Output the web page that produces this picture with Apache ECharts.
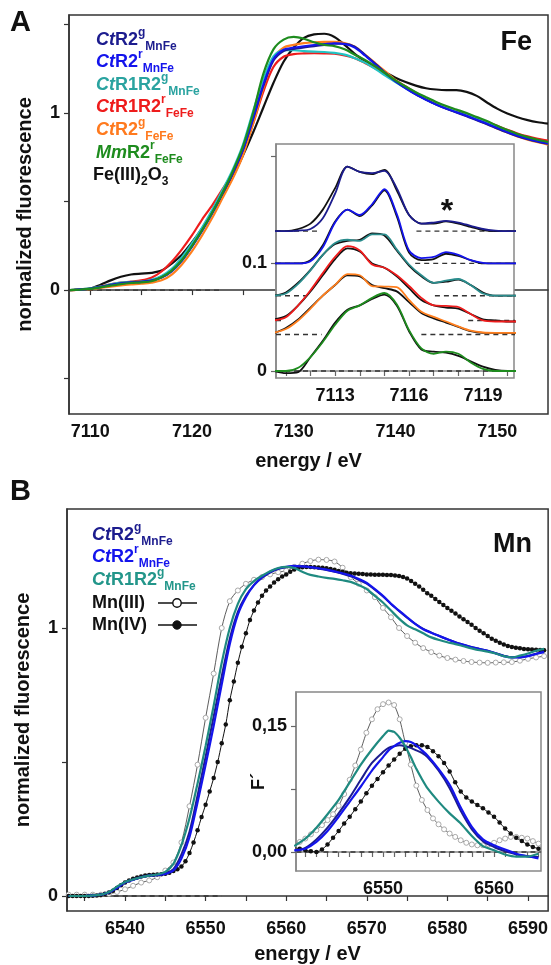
<!DOCTYPE html>
<html><head><meta charset="utf-8">
<script src="https://cdn.jsdelivr.net/npm/echarts@6/dist/echarts.min.js"></script>
<style>html,body{margin:0;padding:0;background:#fff}#c{width:551px;height:965px}</style>
</head><body><div id="c"></div>
<script>
// ---------------- Panel A (Fe K-edge) ----------------
const feE = [7108,7109,7110,7111,7112,7113,7114,7115,7116,7117,7118,7119,7120,7121,7122,7123,7124,7125,7126,7127,7128,7129,7130,7131,7132,7133,7134,7135,7136,7137,7138,7139,7140,7141,7142,7143,7144,7145,7146,7147,7148,7149,7150,7151,7152,7153,7154,7155];
const feNavy = [0,0.003,0.008,0.018,0.03,0.039,0.044,0.047,0.054,0.072,0.108,0.168,0.248,0.338,0.438,0.548,0.662,0.792,0.965,1.15,1.295,1.35,1.362,1.37,1.378,1.385,1.392,1.392,1.375,1.33,1.28,1.228,1.18,1.142,1.106,1.076,1.048,1.024,1.003,0.982,0.959,0.937,0.913,0.89,0.869,0.852,0.838,0.826];
const feBlue = [0,0.003,0.008,0.017,0.028,0.037,0.042,0.046,0.053,0.07,0.105,0.165,0.245,0.335,0.435,0.545,0.66,0.79,0.97,1.16,1.305,1.358,1.37,1.378,1.385,1.39,1.395,1.39,1.37,1.325,1.275,1.225,1.178,1.14,1.105,1.075,1.048,1.025,1.005,0.985,0.962,0.94,0.916,0.893,0.872,0.855,0.84,0.828];
const feTeal = [0,0.004,0.01,0.02,0.032,0.042,0.046,0.048,0.058,0.08,0.12,0.185,0.265,0.355,0.455,0.565,0.68,0.82,1.01,1.19,1.32,1.355,1.355,1.35,1.347,1.345,1.34,1.33,1.31,1.285,1.25,1.212,1.175,1.14,1.107,1.077,1.05,1.028,1.007,0.988,0.966,0.944,0.92,0.897,0.876,0.858,0.843,0.83];
const feRed = [0,0.003,0.008,0.02,0.033,0.042,0.048,0.055,0.07,0.105,0.16,0.23,0.31,0.4,0.48,0.57,0.66,0.78,0.94,1.12,1.26,1.318,1.333,1.337,1.338,1.337,1.335,1.326,1.31,1.283,1.253,1.22,1.185,1.15,1.115,1.085,1.058,1.035,1.013,0.993,0.972,0.95,0.928,0.905,0.885,0.868,0.855,0.845];
const feOrange = [0,0.002,0.005,0.012,0.02,0.027,0.032,0.036,0.042,0.055,0.088,0.145,0.22,0.31,0.41,0.52,0.63,0.76,0.94,1.14,1.31,1.37,1.385,1.395,1.4,1.402,1.402,1.395,1.375,1.33,1.283,1.235,1.188,1.148,1.112,1.08,1.052,1.028,1.006,0.985,0.962,0.938,0.913,0.89,0.868,0.85,0.835,0.822];
const feGreen = [0,0.003,0.007,0.015,0.025,0.034,0.04,0.044,0.05,0.072,0.11,0.17,0.25,0.34,0.44,0.55,0.67,0.81,1.0,1.22,1.36,1.415,1.43,1.42,1.4,1.385,1.378,1.36,1.33,1.3,1.265,1.225,1.185,1.15,1.118,1.09,1.063,1.04,1.02,1.0,0.977,0.955,0.928,0.904,0.882,0.864,0.849,0.836];
const feBlack = [0,0.004,0.01,0.03,0.055,0.075,0.088,0.093,0.097,0.11,0.15,0.2,0.27,0.35,0.44,0.54,0.64,0.76,0.89,1.03,1.17,1.29,1.37,1.425,1.445,1.448,1.43,1.385,1.335,1.295,1.26,1.23,1.2,1.175,1.155,1.14,1.133,1.13,1.13,1.12,1.097,1.06,1.025,0.997,0.976,0.96,0.948,0.94];
const feZeroLine = [[7108,0],[7123,0]];

// inset A (pre-edge, offset spectra) with black fits
const preE = [7110.5,7111,7111.5,7112,7112.5,7113,7113.5,7114,7114.5,7115,7115.5,7116,7116.5,7117,7117.5,7118,7118.5,7119,7119.5,7120,7120.5];
const preNavy   = [0.13,0.13,0.1305,0.132,0.142,0.165,0.19,0.185,0.184,0.186,0.17,0.145,0.137,0.138,0.1395,0.138,0.135,0.132,0.1305,0.13,0.13];
const preNavyFit= [0.13,0.13,0.132,0.137,0.15,0.17,0.19,0.185,0.183,0.187,0.168,0.145,0.137,0.137,0.139,0.137,0.134,0.131,0.13,0.13,0.13];
const preBlue   = [0.1,0.1,0.1,0.102,0.115,0.138,0.15,0.145,0.155,0.169,0.146,0.112,0.105,0.106,0.1105,0.108,0.103,0.1005,0.1,0.1,0.1];
const preBlueFit= [0.1,0.1,0.1,0.103,0.117,0.139,0.15,0.144,0.154,0.168,0.144,0.11,0.103,0.104,0.109,0.107,0.103,0.1,0.1,0.1,0.1];
const preTeal   = [0.07,0.072,0.081,0.0935,0.108,0.119,0.122,0.121,0.127,0.127,0.113,0.099,0.089,0.082,0.084,0.0855,0.08,0.072,0.07,0.07,0.07];
const preTealFit= [0.07,0.073,0.082,0.094,0.108,0.118,0.121,0.122,0.128,0.126,0.112,0.098,0.088,0.082,0.083,0.085,0.08,0.073,0.07,0.07,0.07];
const preRed    = [0.047,0.05,0.061,0.075,0.091,0.106,0.116,0.112,0.099,0.096,0.089,0.079,0.068,0.061,0.0605,0.0595,0.053,0.047,0.046,0.046,0.046];
const preRedFit = [0.048,0.051,0.061,0.074,0.089,0.104,0.114,0.111,0.1,0.096,0.088,0.077,0.066,0.061,0.059,0.058,0.053,0.048,0.047,0.046,0.046];
const preOrange = [0.0355,0.039,0.047,0.058,0.07,0.08,0.09,0.089,0.079,0.0785,0.078,0.066,0.055,0.0503,0.046,0.0415,0.0375,0.0358,0.0355,0.0355,0.0355];
const preOrangeFit=[0.035,0.04,0.048,0.059,0.07,0.08,0.089,0.088,0.08,0.077,0.074,0.064,0.054,0.049,0.045,0.041,0.037,0.0355,0.0355,0.0355,0.0355];
const preGreen  = [0,0,0.003,0.013,0.027,0.043,0.056,0.061,0.068,0.0725,0.062,0.038,0.021,0.016,0.018,0.016,0.008,0.002,0,0,0];
const preGreenFit=[0,-0.002,-0.001,0.013,0.028,0.045,0.057,0.061,0.067,0.071,0.061,0.037,0.02,0.018,0.017,0.014,0.009,0.004,0.001,0,0];
const preBaseLevel = [0.13,0.1,0.07,0.047,0.034,0];
const preBaseLeftEnd = [7112.3,7111.8,7111.85,7110.95,7112.45,7120.3];
const preBaseRightStart = [7116.3,7116.25,7117.05,7118.4,7116.5,null];

// ---------------- Panel B (Mn K-edge) ----------------
const mnE = [6533,6534,6535,6536,6537,6538,6539,6540,6541,6542,6543,6544,6545,6546,6547,6548,6549,6550,6551,6552,6553,6554,6555,6556,6557,6558,6559,6560,6561,6562,6563,6564,6565,6566,6567,6568,6569,6570,6571,6572,6573,6574,6575,6576,6577,6578,6579,6580,6581,6582,6583,6584,6585,6586,6587,6588,6589,6590,6591,6592];
const mnNavy = [0,0,0,0.002,0.005,0.014,0.032,0.052,0.062,0.071,0.077,0.079,0.084,0.1,0.155,0.24,0.375,0.52,0.67,0.82,0.96,1.06,1.12,1.16,1.188,1.207,1.22,1.227,1.23,1.229,1.226,1.222,1.216,1.21,1.202,1.193,1.18,1.165,1.143,1.118,1.09,1.063,1.038,1.016,0.997,0.983,0.97,0.958,0.947,0.938,0.929,0.922,0.915,0.906,0.897,0.891,0.891,0.896,0.904,0.912];
const mnBlue = [0,0,0,0.002,0.005,0.013,0.03,0.05,0.06,0.07,0.076,0.078,0.082,0.095,0.14,0.22,0.35,0.49,0.635,0.79,0.94,1.05,1.115,1.16,1.19,1.21,1.222,1.228,1.232,1.23,1.227,1.223,1.218,1.211,1.204,1.196,1.183,1.168,1.145,1.12,1.09,1.065,1.04,1.015,0.995,0.982,0.97,0.958,0.946,0.937,0.928,0.921,0.915,0.905,0.895,0.89,0.89,0.895,0.903,0.91];
const mnTeal = [0,0,0,0.002,0.005,0.015,0.035,0.052,0.062,0.07,0.076,0.08,0.09,0.12,0.19,0.29,0.42,0.56,0.71,0.87,1.0,1.09,1.145,1.175,1.195,1.212,1.224,1.228,1.224,1.21,1.198,1.192,1.187,1.183,1.178,1.172,1.16,1.145,1.12,1.095,1.065,1.035,1.01,0.995,0.98,0.965,0.955,0.947,0.94,0.932,0.924,0.917,0.912,0.905,0.895,0.89,0.897,0.905,0.915,0.922];
const mnIII = [0.005,0.005,0.005,0.005,0.005,0.008,0.015,0.025,0.038,0.05,0.058,0.07,0.095,0.125,0.2,0.335,0.49,0.665,0.83,1.0,1.1,1.14,1.165,1.18,1.19,1.2,1.208,1.214,1.228,1.24,1.25,1.255,1.254,1.248,1.225,1.19,1.165,1.14,1.115,1.075,1.04,1.0,0.97,0.945,0.925,0.91,0.897,0.888,0.882,0.877,0.873,0.871,0.87,0.871,0.872,0.873,0.878,0.885,0.89,0.895];
const mnIVE = []; for (let e = 6533; e <= 6592; e += 0.5) mnIVE.push(e);
const mnIV = [0,0,0,0,0,0,0.001,0.002,0.004,0.008,
  0.013,0.02,0.03,0.04,0.05,0.058,0.064,0.069,0.073,0.076,
  0.078,0.079,0.08,0.081,0.083,0.087,0.093,0.1,0.11,0.13,
  0.16,0.2,0.245,0.295,0.34,0.39,0.44,0.5,0.57,0.64,
  0.73,0.8,0.87,0.93,0.98,1.03,1.065,1.095,1.12,1.14,
  1.155,1.17,1.182,1.192,1.2,1.21,1.218,1.224,1.227,1.228,
  1.228,1.227,1.226,1.225,1.223,1.22,1.217,1.213,1.21,1.206,
  1.204,1.203,1.202,1.201,1.2,1.2,1.199,1.199,1.199,1.198,
  1.198,1.196,1.194,1.19,1.185,1.175,1.165,1.155,1.143,1.13,
  1.12,1.108,1.097,1.086,1.075,1.064,1.054,1.043,1.033,1.022,
  1.012,1.0,0.99,0.98,0.97,0.96,0.952,0.945,0.938,0.933,
  0.929,0.926,0.924,0.922,0.921,0.92,0.919,0.918,0.917];
const mnZeroLine = [[6533,0],[6552,0]];

// inset B: first derivative F'
const dE = [6542,6543,6544,6545,6546,6547,6548,6549,6550,6550.5,6551,6551.5,6552,6552.5,6553,6553.5,6554,6555,6556,6557,6558,6559,6560,6561,6562,6563,6564];
const dTeal = [0.007,0.016,0.029,0.045,0.062,0.083,0.104,0.122,0.138,0.1445,0.143,0.136,0.126,0.113,0.099,0.087,0.076,0.06,0.046,0.034,0.019,0.007,0.002,-0.003,-0.0056,-0.0056,-0.002];
const dBlue = [0.002,0.004,0.012,0.025,0.042,0.06,0.078,0.097,0.113,0.121,0.126,0.13,0.132,0.131,0.127,0.121,0.115,0.099,0.08,0.053,0.03,0.015,0.008,0.003,-0.002,-0.005,-0.0075];
const dNavy = [0.002,0.005,0.015,0.029,0.046,0.065,0.086,0.106,0.119,0.124,0.126,0.127,0.126,0.124,0.121,0.118,0.113,0.097,0.076,0.049,0.027,0.013,0.006,0.001,-0.003,-0.005,-0.006];
const dRefE = []; for (let e = 6542; e <= 6564; e += 0.5) dRefE.push(e);
const dIII = [0.007,0.012,0.016,0.021,0.026,0.032,0.038,0.045,0.055,0.069,0.086,0.103,0.122,0.142,0.158,0.17,0.176,0.178,0.175,0.158,0.13,0.104,0.079,0.062,0.05,0.04,0.033,0.027,0.022,0.018,0.014,0.011,0.009,0.008,0.008,0.009,0.011,0.014,0.016,0.018,0.018,0.017,0.016,0.013,0.01];
const dIV = [0.005,0.004,0.002,0.001,0,0.003,0.009,0.017,0.025,0.034,0.042,0.051,0.06,0.07,0.079,0.087,0.095,0.103,0.11,0.117,0.123,0.126,0.127,0.127,0.125,0.12,0.114,0.106,0.096,0.083,0.072,0.065,0.06,0.056,0.052,0.047,0.042,0.035,0.028,0.022,0.017,0.013,0.009,0.006,0.004];

// tick values
const aTicksX = [7110,7115,7120,7125,7130,7135,7140,7145,7150], aLabX = [7110,7120,7130,7140,7150];
const aTicksY = [-0.5,0,0.5,1,1.5], aLabY = [0,1];
const aiTicksX = [7111,7112,7113,7114,7115,7116,7117,7118,7119,7120], aiLabX = [7113,7116,7119];
const aiTicksY = [0,0.1,0.2], aiLabY = [0,0.1];
const bTicksX = [6535,6540,6545,6550,6555,6560,6565,6570,6575,6580,6585,6590], bLabX = [6540,6550,6560,6570,6580,6590];
const bTicksY = [0,0.5,1], bLabY = [0,1];
const biTicksX = [6543,6544,6545,6546,6547,6548,6549,6550,6551,6552,6553,6554,6555,6556,6557,6558,6559,6560,6561,6562,6563,6564], biLabX = [6550,6560];
const biTicksY = [0,0.075,0.15], biLabY = [0,0.15];

// legend texts
const legendA = ['{i|Ct}{n|R2}{sp|g}{sb|MnFe}','{i|Ct}{n|R2}{sp|r}{sb|MnFe}','{i|Ct}{n|R1R2}{sp|g}{sb|MnFe}','{i|Ct}{n|R1R2}{sp|r}{sb|FeFe}','{i|Ct}{n|R2}{sp|g}{sb|FeFe}','{i|Mm}{n|R2}{sp|r}{sb|FeFe}','{n|Fe(III)}{sb|2}{n|O}{sb|3}'];
const legendAColor = ['#1c1c8e','#1414ec','#2aa3a0','#ee1c1c','#ff7a1e','#1e8c1e','#111111'];
const legendB = ['{i|Ct}{n|R2}{sp|g}{sb|MnFe}','{i|Ct}{n|R2}{sp|r}{sb|MnFe}','{i|Ct}{n|R1R2}{sp|g}{sb|MnFe}','{n|Mn(III)}','{n|Mn(IV)}'];
const legendBColor = ['#1c1c8e','#1414ec','#23968a','#111111','#111111'];

// ---------------- build ----------------
const F = '"Liberation Sans", Arial, Helvetica, sans-serif';
const C = {navy:'#1c1c8e', blue:'#1414ec', cyan:'#22c4c4', tealA:'#2a8c8c', red:'#ee1c1c', orange:'#ff7f1e', green:'#1e8c1e', black:'#111', tealB:'#1f8a80'};
const zip = (xs, ys) => xs.map((x, i) => [x, ys[i]]);
function ln(xi, data, color, width, z, extra) {
  return Object.assign({type:'line', xAxisIndex:xi, yAxisIndex:xi, data, symbol:'none', showSymbol:false,
    smooth:0.3, lineStyle:{color, width}, itemStyle:{color}, z, silent:true, animation:false}, extra || {});
}
function dash(xi, data, z) {
  return {type:'line', xAxisIndex:xi, yAxisIndex:xi, data, symbol:'none', lineStyle:{color:'#333', width:1.4, type:[5,4]}, z, silent:true, animation:false};
}
const plain = (v) => String(v);
const lab = (extra) => Object.assign({fontSize:18, fontWeight:'bold', color:'#111', fontFamily:F, formatter:plain}, extra);
function xAx(gi, min, max, ticks, labs, z, extra) {
  return Object.assign({gridIndex:gi, type:'value', min, max, z,
    axisLine:{show:true, lineStyle:{color: gi%2 ? '#888' : '#333', width:1.5}},
    axisTick:{show:true, length:5, customValues:ticks, lineStyle:{color: gi%2 ? '#666':'#333', width:1.2}},
    axisLabel:lab({customValues:labs, margin:9}), splitLine:{show:false}}, extra || {});
}
function yAx(gi, min, max, ticks, labs, z, extra) {
  return Object.assign({gridIndex:gi, type:'value', min, max, z,
    axisLine:{show:true, lineStyle:{color: gi%2 ? '#888' : '#333', width:1.5}},
    axisTick:{show:true, length:5, customValues:ticks, lineStyle:{color: gi%2 ? '#666':'#333', width:1.2}},
    axisLabel:lab({customValues:labs, margin:9}), splitLine:{show:false}}, extra || {});
}

const series = [];
// main A
series.push(dash(0, feZeroLine, 2));
series.push(ln(0, zip(feE, feBlack), C.black, 2.2, 3));
series.push(ln(0, zip(feE, feRed), C.red, 2.2, 3));
series.push(ln(0, zip(feE, feOrange), C.orange, 2.2, 3));
series.push(ln(0, zip(feE, feTeal), C.cyan, 2.2, 3));
series.push(ln(0, zip(feE, feNavy), C.navy, 2, 3));
series.push(ln(0, zip(feE, feBlue), C.blue, 2, 3));
series.push(ln(0, zip(feE, feGreen), C.green, 2.2, 3));
// inset A baselines
preBaseLevel.forEach((lv, i) => {
  series.push(dash(1, [[7110.6, lv],[preBaseLeftEnd[i], lv]], 12));
  if (preBaseRightStart[i] !== null) series.push(dash(1, [[preBaseRightStart[i], lv],[7120.3, lv]], 12));
});
[[preNavy, preNavyFit, C.navy],[preBlue, preBlueFit, C.blue],[preTeal, preTealFit, C.tealA],
 [preRed, preRedFit, C.red],[preOrange, preOrangeFit, C.orange],[preGreen, preGreenFit, C.green]].forEach(([d, f, c]) => {
  series.push(ln(1, zip(preE, f), '#111', 1.8, 13));
  series.push(ln(1, zip(preE, d), c, 1.8, 14));
});
// main B
series.push(dash(2, mnZeroLine, 2));
series.push(ln(2, zip(mnE, mnIII), '#333', 0.8, 3, {symbol:'circle', showSymbol:true, showAllSymbol:true, symbolSize:5,
  itemStyle:{color:'#fff', borderColor:'#aaa', borderWidth:1}}));
series.push(ln(2, zip(mnIVE, mnIV), '#111', 1, 3, {symbol:'circle', showSymbol:true, showAllSymbol:true, symbolSize:4.5,
  itemStyle:{color:'#111'}}));
series.push(ln(2, zip(mnE, mnNavy), C.navy, 2, 4));
series.push(ln(2, zip(mnE, mnBlue), C.blue, 2.2, 4));
series.push(ln(2, zip(mnE, mnTeal), C.tealB, 2.2, 4));
// inset B
series.push(dash(3, [[6542.2,0],[6564.2,0]], 12));
series.push(ln(3, zip(dRefE, dIII), '#333', 0.8, 13, {smooth:0.2, symbol:'circle', showSymbol:true, showAllSymbol:true, symbolSize:5,
  itemStyle:{color:'#fff', borderColor:'#aaa', borderWidth:1}}));
series.push(ln(3, zip(dRefE, dIV), '#111', 1, 13, {smooth:0.2, symbol:'circle', showSymbol:true, showAllSymbol:true, symbolSize:4.5,
  itemStyle:{color:'#111'}}));
series.push(ln(3, zip(dE, dNavy), C.navy, 2, 14));
series.push(ln(3, zip(dE, dBlue), C.blue, 2.2, 14));
series.push(ln(3, zip(dE, dTeal), C.tealB, 2.2, 14, {smooth:0.15}));

const rich = (color) => ({
  i:{fontStyle:'italic', fontWeight:'bold', fontSize:18, fontFamily:F, fill:color, lineHeight:26},
  n:{fontWeight:'bold', fontSize:18, fontFamily:F, fill:color, lineHeight:26},
  sp:{fontWeight:'bold', fontSize:12, fontFamily:F, fill:color, lineHeight:12, verticalAlign:'top'},
  sb:{fontWeight:'bold', fontSize:12, fontFamily:F, fill:color, lineHeight:12, verticalAlign:'bottom'}
});
const graphic = [];
const legAY = [40,62,85,107,130,153,175];
legendA.forEach((t, i) => graphic.push({type:'text', x: i === 6 ? 93 : 96, y: legAY[i], z:50,
  style:{text:t, rich:rich(legendAColor[i]), align:'left', verticalAlign:'middle'}}));
const legBY = [535,557,580,603,625];
legendB.forEach((t, i) => graphic.push({type:'text', x:92, y:legBY[i], z:50,
  style:{text:t, rich:rich(legendBColor[i]), align:'left', verticalAlign:'middle'}}));
graphic.push({type:'line', z:50, shape:{x1:158, y1:603, x2:197, y2:603}, style:{stroke:'#111', lineWidth:1.5}});
graphic.push({type:'circle', z:51, shape:{cx:177, cy:603, r:4.2}, style:{fill:'#fff', stroke:'#111', lineWidth:1.4}});
graphic.push({type:'line', z:50, shape:{x1:158, y1:625, x2:197, y2:625}, style:{stroke:'#111', lineWidth:1.5}});
graphic.push({type:'circle', z:51, shape:{cx:177, cy:625, r:4.2}, style:{fill:'#111', stroke:'#111', lineWidth:1}});
const big = (text, x, y, size, align) => ({type:'text', x, y, z:50, style:{text, fill:'#111', font:'bold ' + size + 'px ' + F, align, verticalAlign:'middle'}});
graphic.push(big('A', 10, 23, 29, 'left'));
graphic.push(big('B', 10, 492, 29, 'left'));
graphic.push(big('Fe', 532, 43, 27, 'right'));
graphic.push(big('Mn', 532, 545, 27, 'right'));
graphic.push(big('*', 447, 212, 32, 'center'));

const nameStyle = {fontSize:20, fontWeight:'bold', color:'#111', fontFamily:F};
const option = {
  animation:false,
  backgroundColor:'#fff',
  grid:[
    {left:69, right:3, top:15, bottom:551, show:true, borderColor:'#333', borderWidth:1.5, z:0},
    {left:276, right:37, top:144, bottom:587, show:true, backgroundColor:'#fff', borderColor:'#888', borderWidth:1.5, z:10},
    {left:67, right:1, top:509, bottom:53, show:true, borderColor:'#333', borderWidth:1.5, z:0},
    {left:296, right:10, top:692, bottom:94, show:true, backgroundColor:'#fff', borderColor:'#888', borderWidth:1.5, z:10}
  ],
  xAxis:[
    xAx(0, 7107.9, 7155, aTicksX, aLabX, 1, {name:'energy / eV', nameLocation:'middle', nameGap:37, nameTextStyle:nameStyle}),
    xAx(1, 7110.6, 7120.26, aiTicksX, aiLabX, 11),
    xAx(2, 6532.8, 6592.5, bTicksX, bLabX, 1, {name:'energy / eV', nameLocation:'middle', nameGap:33, nameTextStyle:nameStyle}),
    xAx(3, 6542.16, 6564.23, biTicksX, biLabX, 11)
  ],
  yAxis:[
    yAx(0, -0.7, 1.554, aTicksY, aLabY, 1, {name:'normalized fluorescence', nameLocation:'middle', nameGap:34, nameTextStyle:nameStyle}),
    yAx(1, -0.0065, 0.211, aiTicksY, aiLabY, 11),
    yAx(2, -0.056, 1.444, bTicksY, bLabY, 1, {name:'normalized fluorescence', nameLocation:'middle', nameGap:34, nameTextStyle:nameStyle}),
    yAx(3, -0.0226, 0.1905, biTicksY, biLabY, 11, {name:'F\u00B4', nameLocation:'middle', nameGap:28, nameMoveOverlap:false,
      nameTextStyle:{fontSize:18, fontWeight:'bold', color:'#111', fontFamily:F},
      axisLabel:lab({customValues:biLabY, margin:9, formatter:(v) => v.toFixed(2).replace('.', ',')})})
  ],
  series,
  graphic
};
const chart = echarts.init(document.getElementById('c'), null, {renderer:'canvas'});
chart.setOption(option);
</script></body></html>
